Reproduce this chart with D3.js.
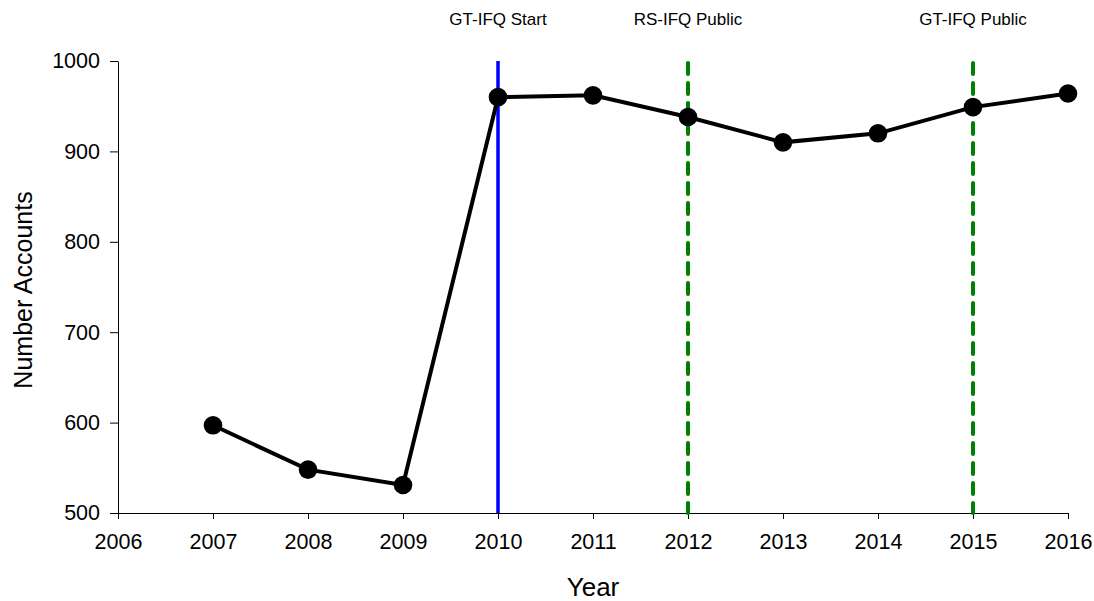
<!DOCTYPE html>
<html>
<head>
<meta charset="utf-8">
<script src="https://cdn.jsdelivr.net/npm/d3@7"></script>
<style>
  body { margin: 0; background: white; }
  text { font-family: "Liberation Sans", Arial, sans-serif; }
</style>
</head>
<body>
<svg width="1094" height="601"></svg>
<script>
var years = [2007, 2008, 2009, 2010, 2011, 2012, 2013, 2014, 2015, 2016];
var accounts = [597, 548, 531, 960, 962, 938, 910, 920, 949, 964];

var eventYears = [2010, 2012, 2015];
var eventLabels = ["GT-IFQ Start", "RS-IFQ Public", "GT-IFQ Public"];
var eventColors = ["#0000ff", "#008000", "#008000"];
var eventDashed = [false, true, true];

var xTicks = [2006, 2007, 2008, 2009, 2010, 2011, 2012, 2013, 2014, 2015, 2016];
var yTicks = [500, 600, 700, 800, 900, 1000];

var svg = d3.select("svg");

var x = d3.scaleLinear().domain([2006, 2016]).range([118, 1068]);
var y = d3.scaleLinear().domain([500, 1000]).range([513, 61]);

// axes
var xAxis = svg.append("g")
  .attr("transform", "translate(0,513)")
  .call(d3.axisBottom(x).tickValues(xTicks).tickFormat(d3.format("d")).tickSizeInner(6).tickSizeOuter(0).tickPadding(15));
xAxis.select(".domain").attr("d", "M111,0.5H1068");

var yAxis = svg.append("g")
  .attr("transform", "translate(118,0)")
  .call(d3.axisLeft(y).tickValues(yTicks).tickFormat(d3.format("d")).tickSizeInner(8).tickSizeOuter(0).tickPadding(10));

svg.selectAll(".tick text").style("font-size", "21.5px").attr("fill", "#000");
svg.selectAll(".tick line, .domain").attr("stroke", "#000");

// event lines
eventYears.forEach(function(yr, i) {
  svg.append("line")
    .attr("x1", x(yr)).attr("x2", x(yr))
    .attr("y1", eventDashed[i] ? y(1000) + 2 : y(1000)).attr("y2", y(500))
    .attr("stroke", eventColors[i])
    .attr("stroke-width", eventDashed[i] ? 4 : 3.5)
    .attr("stroke-linecap", eventDashed[i] ? "round" : "butt")
    .attr("stroke-dasharray", eventDashed[i] ? "11,9" : null);
  svg.append("text")
    .attr("x", x(yr)).attr("y", 25)
    .attr("text-anchor", "middle")
    .style("font-size", "17px")
    .text(eventLabels[i]);
});

var data = years.map(function(d, i) { return {year: d, value: accounts[i]}; });

var line = d3.line()
  .x(function(d) { return x(d.year); })
  .y(function(d) { return y(d.value); });

svg.append("path")
  .datum(data)
  .attr("d", line)
  .attr("fill", "none")
  .attr("stroke", "#000")
  .attr("stroke-width", 4);

svg.selectAll(".dot")
  .data(data)
.enter().append("circle")
  .attr("class", "dot")
  .attr("cx", function(d) { return x(d.year); })
  .attr("cy", function(d) { return y(d.value); })
  .attr("r", 9.3)
  .attr("fill", "#000");

// axis titles
svg.append("text")
  .attr("x", 593).attr("y", 596)
  .attr("text-anchor", "middle")
  .style("font-size", "26px")
  .text("Year");

svg.append("text")
  .attr("transform", "translate(32,290) rotate(-90)")
  .attr("text-anchor", "middle")
  .style("font-size", "25px")
  .text("Number Accounts");
</script>
</body>
</html>
